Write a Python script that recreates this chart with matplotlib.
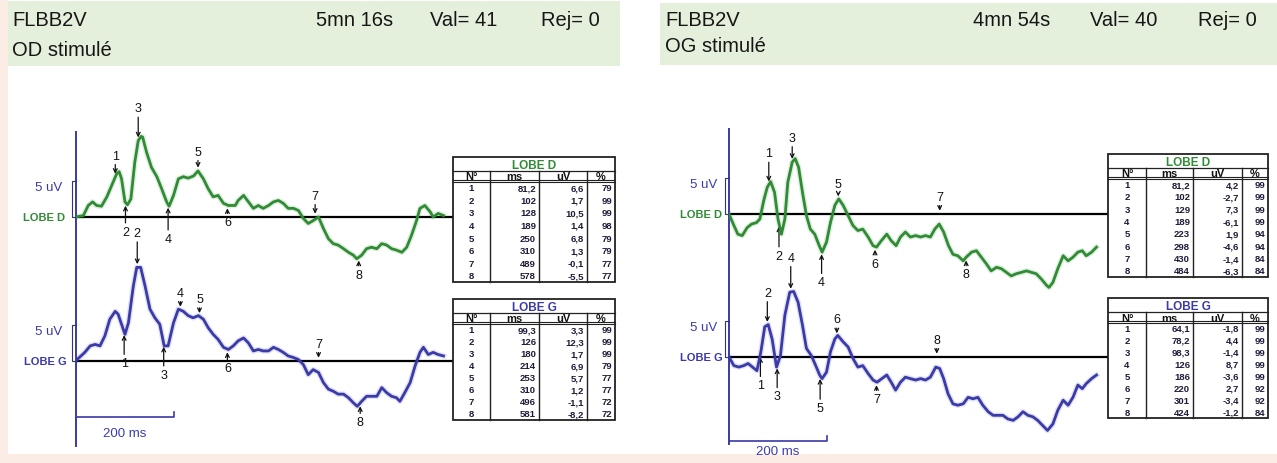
import numpy as np
import matplotlib.pyplot as plt
from matplotlib.patches import Rectangle

# ---- data ----
# waveforms (ms, uV)
od_d_t = [0, 16, 26, 35, 43, 53, 64, 74, 84, 89, 94, 101, 106, 113, 121, 128, 134, 137, 145, 155,
          166, 176, 186, 191, 200, 210, 220, 230, 241, 250, 261, 271, 281, 291, 302, 312, 326, 332,
          343, 353, 363, 373, 383, 394, 404, 414, 424, 434, 445, 455, 465, 475, 485, 496, 506, 516,
          526, 536, 547, 557, 567, 574, 584, 594, 604, 615, 625, 635, 645, 655, 666, 676, 686, 696,
          703, 713, 724, 730, 740, 751]
od_d_v = [0, 0.2, 1.6, 2.1, 1.6, 1.5, 2.8, 4.4, 6.0, 6.3, 5.3, 2.1, 1.7, 2.5, 7.6, 10.6, 11.2, 11.1,
          9.0, 6.9, 5.6, 3.9, 2.1, 1.5, 3.0, 5.3, 5.6, 5.4, 5.7, 6.4, 5.3, 3.9, 2.8, 3.0, 1.9, 1.6,
          1.6, 2.3, 3.0, 2.1, 1.2, 1.6, 1.2, 1.6, 2.1, 2.3, 1.9, 1.2, 1.2, 0.9, -0.2, -0.9, -0.5, 0.0,
          -1.6, -3.0, -3.7, -3.9, -4.4, -4.9, -5.3, -5.8, -5.3, -4.4, -4.2, -4.4, -3.7, -3.9, -4.4,
          -4.6, -4.9, -4.2, -2.5, -0.5, 1.2, 1.6, 0.7, 0.0, 0.5, 0.2]

od_g_t = [0, 19, 30, 40, 50, 60, 70, 81, 87, 94, 101, 108, 118, 125, 133, 142, 152, 162, 172, 181,
          189, 200, 210, 220, 230, 240, 251, 261, 271, 281, 291, 302, 312, 322, 332, 343, 353, 363,
          373, 383, 394, 404, 414, 424, 434, 444, 455, 465, 475, 485, 496, 506, 516, 526, 536, 547,
          557, 567, 575, 584, 594, 604, 615, 625, 635, 645, 655, 662, 672, 683, 693, 703, 710, 720,
          730, 740, 751]
od_g_v = [0, 1.2, 2.1, 2.3, 2.1, 3.5, 5.8, 6.9, 6.5, 5.1, 3.7, 5.3, 10.4, 13.0, 13.0, 10.4, 7.2,
          6.0, 5.1, 2.1, 2.1, 5.3, 7.2, 6.9, 6.3, 6.0, 6.3, 5.8, 4.6, 3.7, 3.0, 1.9, 1.6, 2.1, 2.8,
          3.2, 2.5, 1.4, 1.6, 1.4, 1.4, 1.9, 1.6, 1.2, 0.7, 0.5, 0.2, -0.5, -1.9, -1.2, -1.6, -3.0,
          -3.9, -4.2, -4.6, -4.6, -5.1, -5.8, -6.3, -5.6, -4.9, -4.9, -4.9, -3.7, -4.4, -4.9, -5.1,
          -5.6, -4.4, -3.0, -0.7, 1.2, 1.9, 0.9, 1.2, 0.9, 0.7]

og_d_t = [0, 10, 18, 27, 37, 46, 56, 63, 71, 78, 85, 93, 100, 107, 114, 120, 129, 135, 142, 150,
          158, 166, 175, 183, 190, 199, 207, 216, 224, 233, 243, 253, 263, 273, 284, 294, 301, 311,
          322, 331, 341, 350, 360, 370, 381, 391, 401, 411, 420, 429, 438, 448, 457, 467, 478, 484,
          495, 505, 515, 525, 535, 546, 556, 566, 576, 586, 597, 607, 617, 627, 637, 648, 653, 661,
          671, 682, 692, 702, 712, 721, 729, 740, 750]
og_d_v = [0, -1.6, -2.8, -3.0, -1.9, -1.4, -1.2, -0.7, 1.9, 3.7, 4.5, 3.0, -0.7, -2.8, -0.7, 4.4,
          7.2, 7.7, 6.5, 3.0, -0.2, -2.1, -2.8, -4.2, -5.3, -3.9, -1.2, 1.2, 2.1, 1.2, -0.2, -1.6,
          -2.3, -2.1, -3.2, -4.4, -4.6, -3.7, -2.8, -3.7, -4.4, -3.2, -2.5, -3.2, -3.0, -3.2, -3.0,
          -3.2, -2.1, -1.4, -2.5, -4.4, -5.6, -5.8, -6.5, -6.0, -5.3, -5.1, -6.0, -6.9, -7.9, -7.4,
          -7.6, -8.1, -8.6, -8.3, -8.1, -7.9, -8.1, -8.3, -9.0, -9.9, -10.2, -9.5, -7.6, -5.8, -6.5,
          -6.0, -5.3, -5.1, -5.8, -5.3, -4.6]

og_g_t = [0, 10, 20, 30, 39, 48, 57, 65, 73, 80, 88, 97, 105, 114, 124, 132, 141, 150, 158, 168,
          177, 185, 190, 199, 207, 216, 222, 233, 243, 253, 263, 273, 284, 294, 302, 312, 322, 331,
          340, 350, 360, 370, 381, 391, 401, 411, 422, 430, 438, 447, 457, 467, 478, 488, 498, 508,
          518, 529, 539, 549, 559, 569, 580, 590, 600, 610, 620, 630, 640, 650, 661, 671, 682, 692,
          702, 712, 721, 729, 740, 750]
og_g_v = [0, -1.2, -1.4, -1.2, -0.9, -1.4, -1.9, 0.7, 4.2, 4.5, 2.5, -1.4, 0.2, 5.8, 9.0, 9.1, 7.6,
          4.4, 1.2, 0.2, -1.2, -2.5, -3.0, -2.1, 0.7, 2.5, 3.0, 2.1, 1.4, -0.2, -1.4, -1.2, -2.3,
          -3.2, -3.5, -3.0, -2.5, -3.5, -4.6, -3.5, -2.8, -3.0, -3.2, -3.0, -3.2, -2.8, -1.4, -1.6,
          -3.0, -5.1, -6.5, -6.7, -6.5, -5.6, -5.8, -5.6, -6.7, -7.6, -8.1, -8.1, -8.1, -8.6, -8.8,
          -8.3, -7.6, -8.1, -8.3, -8.8, -9.5, -10.2, -9.3, -7.4, -6.0, -6.7, -5.6, -3.9, -4.4, -3.7,
          -3.0, -2.5]

# peak tables
od_d_ms = [81.2, 102, 128, 189, 250, 310, 489, 578]
od_d_uv = [6.6, 1.7, 10.5, 1.4, 6.8, 1.3, -0.1, -5.5]
od_d_pct = [79, 99, 99, 98, 79, 79, 77, 77]

od_g_ms = [99.3, 126, 180, 214, 253, 310, 496, 581]
od_g_uv = [3.3, 12.3, 1.7, 6.9, 5.7, 1.2, -1.1, -8.2]
od_g_pct = [99, 99, 99, 79, 77, 77, 72, 72]

og_d_ms = [81.2, 102, 129, 189, 223, 298, 430, 484]
og_d_uv = [4.2, -2.7, 7.3, -6.1, 1.9, -4.6, -1.4, -6.3]
og_d_pct = [99, 99, 99, 99, 94, 94, 84, 84]

og_g_ms = [64.1, 78.2, 98.3, 126, 186, 220, 301, 424]
og_g_uv = [-1.8, 4.4, -1.4, 8.7, -3.6, 2.7, -3.4, -1.2]
og_g_pct = [99, 99, 99, 99, 99, 92, 92, 84]

# ---- styles / layout ----
W, H = 1277, 464
MS_PX = 0.49      # pixels per ms
UV_PX = 7.2       # pixels per uV
GREEN = '#2f8c34'
BLUE = '#3a3aa8'
TXT_BLUE = '#3b3bb0'
HEAD_BG = '#e5f0dc'
NARROW = ['Liberation Sans Narrow', 'Liberation Sans', 'DejaVu Sans']
SANS = ['Liberation Sans', 'DejaVu Sans']

fig = plt.figure(figsize=(W / 100, H / 100), dpi=100)
fig.patch.set_facecolor('#fbece6')

bg = fig.add_axes([0, 0, 1, 1])
bg.set_xlim(0, W)
bg.set_ylim(H, 0)
bg.set_axis_off()
bg.add_patch(Rectangle((8, 0), W - 8, 455, facecolor='white', edgecolor='none'))


def px_axes(x0, y0, x1, y1):
    ax = fig.add_axes([x0 / W, 1 - y1 / H, (x1 - x0) / W, (y1 - y0) / H])
    ax.set_axis_off()
    ax.patch.set_alpha(0)
    return ax


def header(x0, y0, x1, y1, items):
    bg.add_patch(Rectangle((x0, y0), x1 - x0, y1 - y0, facecolor=HEAD_BG, edgecolor='none'))
    for (tx, ty, s) in items:
        bg.text(tx, ty, s, fontsize=14.5, family=NARROW, va='center', ha='left', color='#161616')


header(8, 2, 620, 67, [(12, 21, 'FLBB2V'), (12, 50, 'OD stimulé'),
                       (316, 21, '5mn 16s'), (430, 21, 'Val= 41'), (541, 21, 'Rej= 0')])
header(660, 4, W, 66, [(665, 21, 'FLBB2V'), (665, 46, 'OG stimulé'),
                       (973, 21, '4mn 54s'), (1090, 21, 'Val= 40'), (1198, 21, 'Rej= 0')])


def trace_axes(x0, base_y, x1):
    half = 110
    ax = px_axes(x0, base_y - half, x1, base_y + half)
    ax.set_xlim(0, (x1 - x0) / MS_PX)
    ax.set_ylim(-half / UV_PX, half / UV_PX)
    return ax


def draw_trace(ax, t, v, color, name, label_x, uv_x, peaks_ms, sides, lens):
    ax.axhline(0, color='black', lw=1.6, zorder=2)
    ax.plot(t, v, color=color, lw=4.0, alpha=0.15, solid_joinstyle='round', zorder=3)
    ax.plot(t, v, color=color, lw=2.0, solid_joinstyle='round', zorder=4)
    # 5 uV bracket
    ax.plot([0, -8, -8, 0], [5, 5, 0, 0], color='#333377', lw=0.8, clip_on=False)
    ax.text(uv_x, 4.1, '5 uV', color=TXT_BLUE, fontsize=9.5, family=SANS,
            ha='right', va='center')
    ax.text(label_x, 0, name, color=color, fontsize=8, family=SANS, fontweight='bold',
            ha='right', va='center')
    for n, (ms, side, L) in enumerate(zip(peaks_ms, sides, lens), start=1):
        val = np.interp(ms, t, v)
        if side == 'up':
            tip = max(val, 0) + 0.45
            off, va = L * 0.72, 'bottom'
        else:
            tip = val - 0.45
            off, va = -L * 0.72, 'top'
        ax.annotate(str(n), xy=(ms, tip), xytext=(0, off), textcoords='offset points',
                    ha='center', va=va, fontsize=9, family=SANS, color='#111',
                    annotation_clip=False,
                    arrowprops=dict(arrowstyle='->,head_length=0.3,head_width=0.15',
                                    lw=0.9, color='#111', shrinkA=0, shrinkB=0))


def draw_table(x0, y0, x1, y1, title, color, ms, uv, pct, cols):
    ax = px_axes(x0 - 2, y0 - 2, x1 + 2, y1 + 2)
    w, h = x1 - x0, y1 - y0
    ax.set_xlim(-2, w + 2)
    ax.set_ylim(h + 2, -2)
    ax.add_patch(Rectangle((0, 0), w, h, facecolor='white', edgecolor='#222', lw=1.3))
    t_h, hd_h = 13.5, 11
    row_h = (h - t_h - hd_h) / len(ms)
    ax.plot([0, w], [t_h, t_h], color='#222', lw=0.9)
    ax.plot([0, w], [t_h + hd_h - 1.2, t_h + hd_h - 1.2], color='#222', lw=0.8)
    ax.plot([0, w], [t_h + hd_h, t_h + hd_h], color='#222', lw=0.8)
    for c in cols[1:-1]:
        ax.plot([c, c], [t_h, h], color='#222', lw=1.0)
    ax.text(w / 2, t_h / 2 + 1, title, color=color, fontsize=8.5, fontweight='bold',
            family=SANS, ha='center', va='center')
    for i, s in enumerate(['N°', 'ms', 'uV', '%']):
        ax.text((cols[i] + cols[i + 1]) / 2, t_h + hd_h / 2 + 0.5, s, fontsize=8,
                fontweight='bold', family=SANS, ha='center', va='center', color='#111')
    for r in range(len(ms)):
        yc = t_h + hd_h + (r + 0.5) * row_h
        cells = [str(r + 1), f'{ms[r]:g}'.replace('.', ','),
                 f'{uv[r]:g}'.replace('.', ','), str(pct[r])]
        ax.text((cols[0] + cols[1]) / 2, yc, cells[0], fontsize=6.8, fontweight='bold',
                family=SANS, ha='center', va='center', color='#1c1c38')
        for k in (1, 2, 3):
            ax.text(cols[k + 1] - 3, yc, cells[k], fontsize=6.8, fontweight='bold',
                    family=SANS, ha='right', va='center', color='#1c1c38')


# ---- left panel (OD stimulé) ----
ax_ld = trace_axes(75.5, 218, 453)
ax_lg = trace_axes(75.5, 362, 453)
draw_trace(ax_ld, od_d_t, od_d_v, GREEN, 'LOBE D', -21, -27, od_d_ms,
           ['up', 'down', 'up', 'down', 'up', 'down', 'up', 'down'],
           [12, 20, 23, 25, 10, 8, 12, 8])
draw_trace(ax_lg, od_g_t, od_g_v, BLUE, 'LOBE G', -17, -27, od_g_ms,
           ['down', 'up', 'down', 'up', 'up', 'down', 'up', 'down'],
           [22, 25, 22, 8, 8, 10, 8, 10])
ax_ld.plot([0, 0], [(218 - 133) / UV_PX, (218 - 447) / UV_PX], color=BLUE, lw=1.4,
           clip_on=False, zorder=1)
ax_lg.plot([0, 200, 200], [-7.8, -7.8, -7.1], color=BLUE, lw=1.2, clip_on=False)
ax_lg.text(101, -10.0, '200 ms', color=TXT_BLUE, fontsize=9.5, family=SANS,
           ha='center', va='center')
draw_table(453, 158, 615, 283, 'LOBE D', GREEN, od_d_ms, od_d_uv, od_d_pct,
           [0, 37, 86, 134, 162])
draw_table(453, 300, 615, 421, 'LOBE G', BLUE, od_g_ms, od_g_uv, od_g_pct,
           [0, 37, 86, 134, 162])

# ---- right panel (OG stimulé) ----
ax_rd = trace_axes(729, 215, 1108)
ax_rg = trace_axes(729, 358, 1108)
draw_trace(ax_rd, og_d_t, og_d_v, GREEN, 'LOBE D', -14, -25, og_d_ms,
           ['up', 'down', 'up', 'down', 'up', 'down', 'up', 'down'],
           [22, 23, 15, 22, 6, 8, 8, 8])
draw_trace(ax_rg, og_g_t, og_g_v, BLUE, 'LOBE G', -12, -25, og_g_ms,
           ['down', 'up', 'down', 'up', 'down', 'up', 'down', 'up'],
           [22, 23, 22, 25, 23, 8, 8, 8])
ax_rd.plot([0, 0], [(215 - 130) / UV_PX, (215 - 445) / UV_PX], color=BLUE, lw=1.4,
           clip_on=False, zorder=1)
ax_rg.plot([0, 200, 200], [-11.7, -11.7, -11.0], color=BLUE, lw=1.2, clip_on=False)
ax_rg.text(100, -13.1, '200 ms', color=TXT_BLUE, fontsize=9.5, family=SANS,
           ha='center', va='center')
draw_table(1108, 155, 1268, 278, 'LOBE D', GREEN, og_d_ms, og_d_uv, og_d_pct,
           [0, 38, 85, 134, 160])
draw_table(1108, 299, 1268, 419, 'LOBE G', BLUE, og_g_ms, og_g_uv, og_g_pct,
           [0, 38, 85, 134, 160])

fig.savefig('out.png', dpi=100, facecolor=fig.get_facecolor())
